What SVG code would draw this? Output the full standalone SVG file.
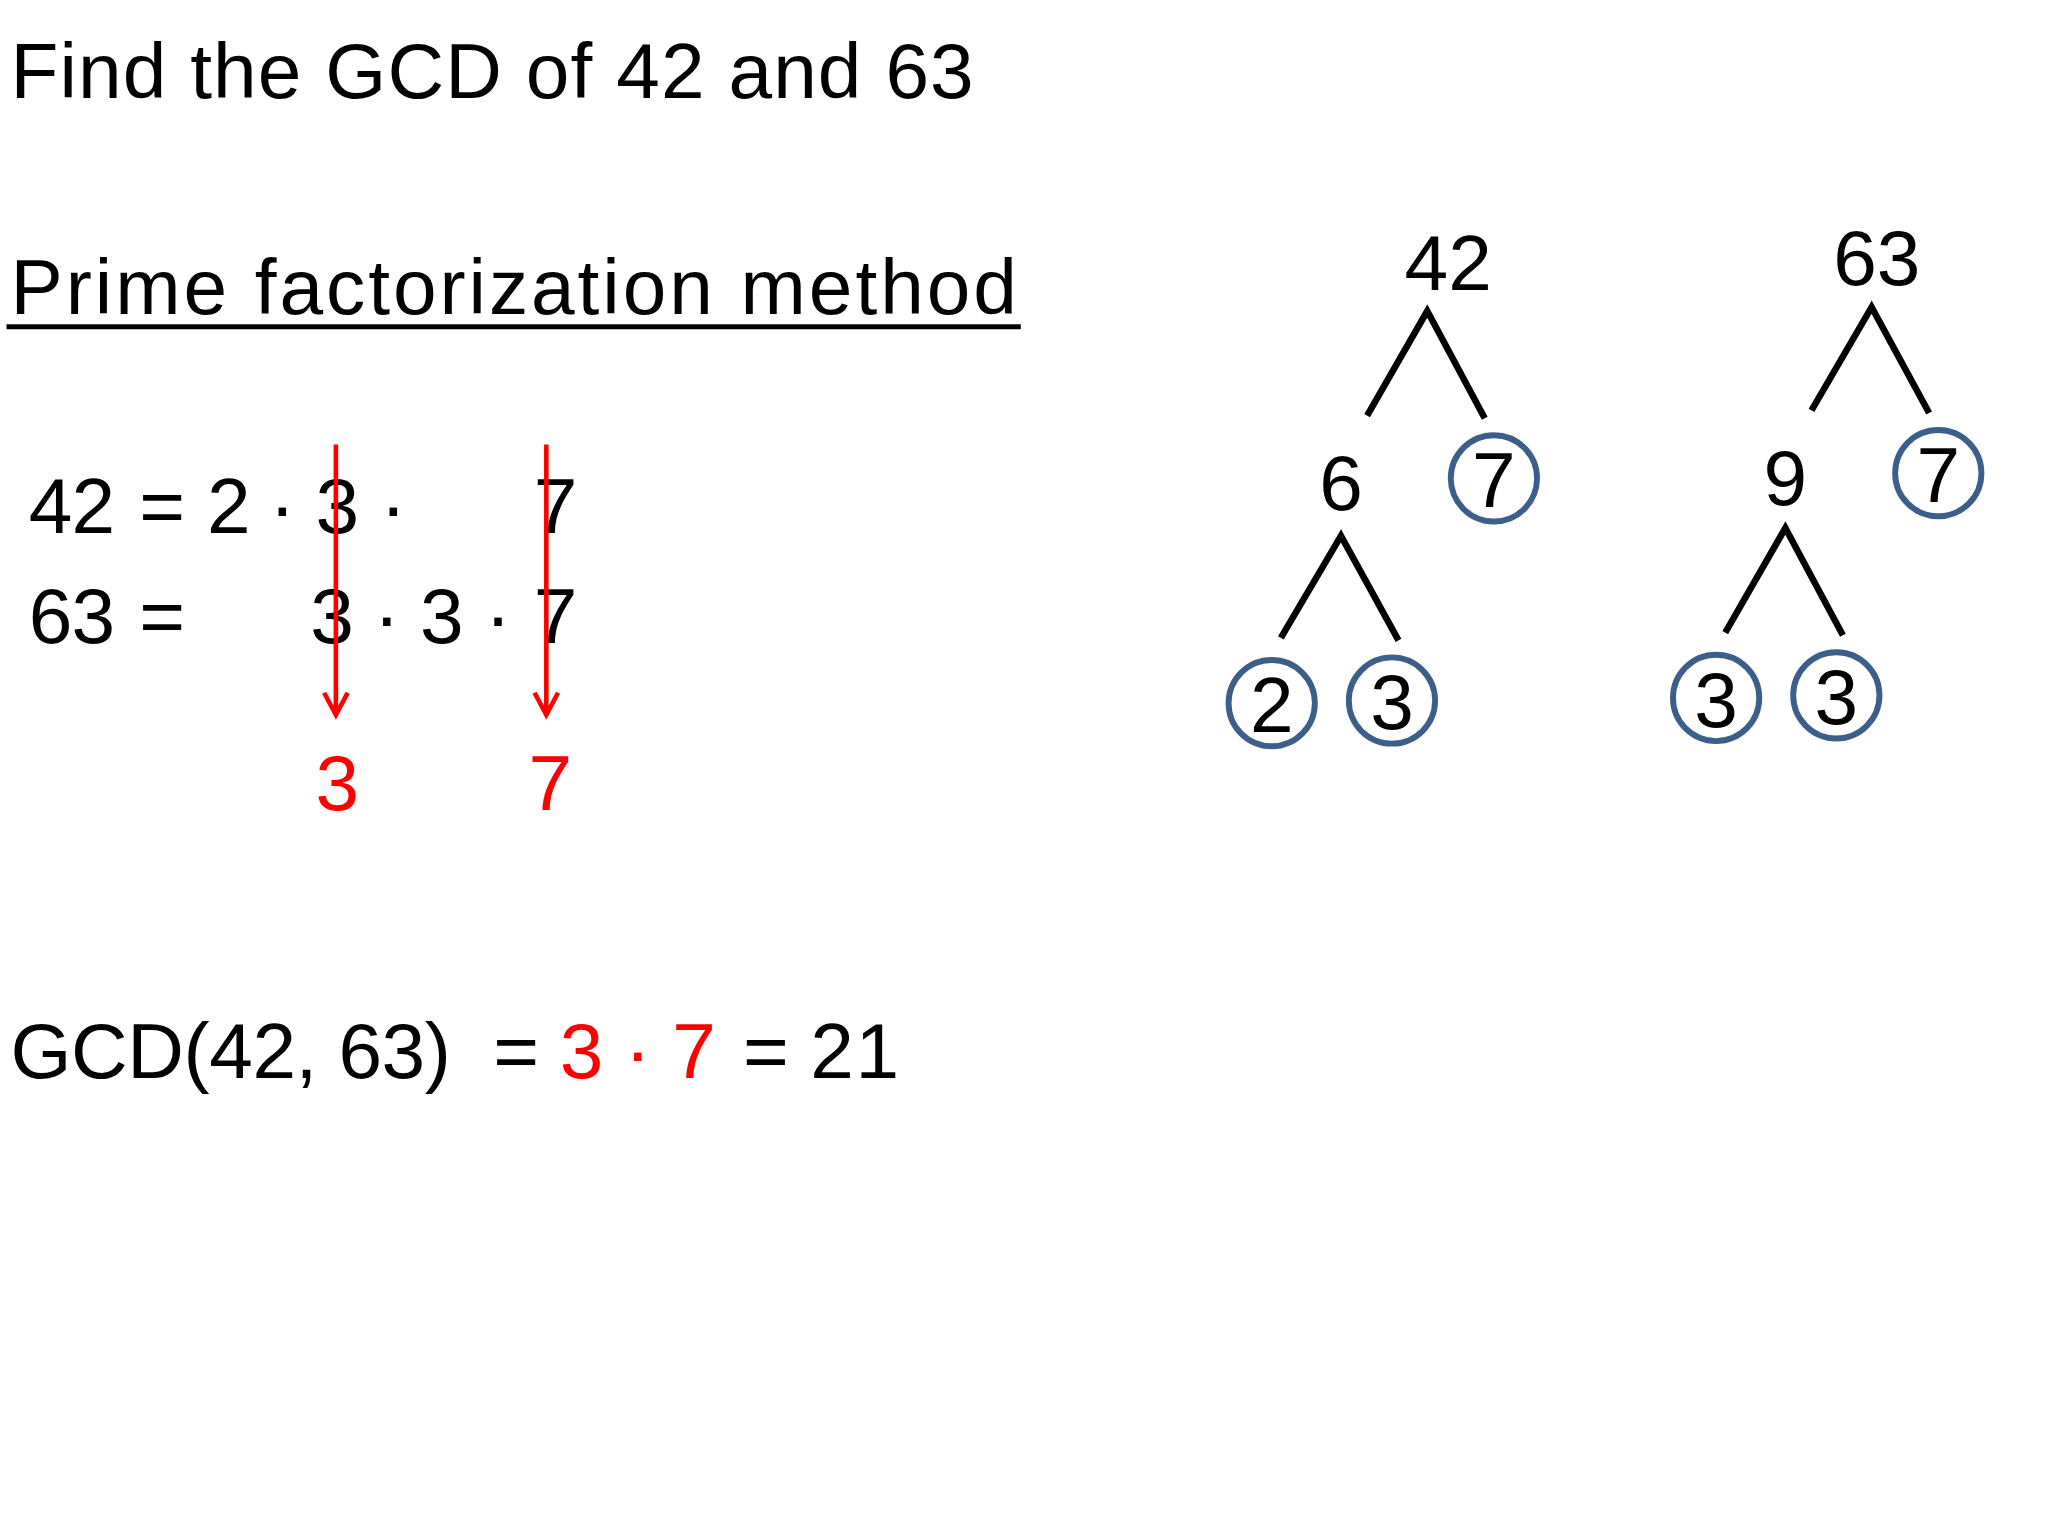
<svg xmlns="http://www.w3.org/2000/svg" width="2048" height="1536" viewBox="0 0 2048 1536">
<style>
text{font-family:"Liberation Sans","DejaVu Sans",sans-serif;font-size:60px;fill:#000}
.c{text-anchor:middle}
.r{fill:#ff0000}
.ln{stroke:#000;stroke-width:5;fill:none}
.ring{stroke:#3c5f8a;stroke-width:4.5;fill:none}
.ar{stroke:#ff0000;stroke-width:3.5;fill:none}
</style>
<rect width="2048" height="1536" fill="#fff"/>
<g transform="scale(1.307)">
<g id="title"><text x="8" y="75" font-size="64" textLength="737">Find the GCD of 42 and 63</text></g>
<g id="heading"><text x="8" y="240" font-size="64" textLength="770">Prime factorization method</text>
<line x1="5" y1="250" x2="781" y2="250" stroke="#000" stroke-width="4"/></g>
<g id="row1">
<text x="22" y="408" textLength="66">42</text><text class="c" x="124" y="408">=</text><text class="c" x="175" y="408">2</text><text class="c" x="216" y="408">·</text><text class="c" x="258" y="408">3</text><text class="c" x="301" y="408">·</text><text class="c" x="425" y="408">7</text></g>
<g id="row2">
<text x="22" y="492" textLength="66">63</text><text class="c" x="124" y="492">=</text><text class="c" x="254" y="492">3</text><text class="c" x="296" y="492">·</text><text class="c" x="338" y="492">3</text><text class="c" x="381" y="492">·</text><text class="c" x="425" y="492">7</text></g>
<g id="connectors">
<path class="ar" d="M257 340V546M248 530L257 547L266 530"/>
<path class="ar" d="M418 340V546M409 530L418 547L427 530"/>
<path class="ln" d="M1046 318L1092 238L1136 320M980 488L1026 410L1070 490"/>
<path class="ln" d="M1386 314L1432 235L1476 316M1320 484L1366 404L1410 486"/>
</g>
<g id="result3"><text class="c r" x="258" y="620">3</text></g>
<g id="result7"><text class="c r" x="421" y="620">7</text></g>
<g id="gcd"><text x="8" y="825" textLength="337">GCD(42, 63)</text><text class="c" x="395" y="825">=</text><text class="c r" x="445" y="825">3</text><text class="c r" x="488" y="825">·</text><text class="c r" x="531" y="825">7</text><text class="c" x="586" y="825">=</text><text x="620" y="825" textLength="68">21</text></g>
<g id="n42"><text class="c" x="1108" y="222">42</text></g>
<g id="n6"><text class="c" x="1026" y="390">6</text></g>
<g id="n7a"><circle class="ring" cx="1143" cy="366" r="33"/><text class="c" x="1143" y="388">7</text></g>
<g id="n2"><circle class="ring" cx="973" cy="538" r="33"/><text class="c" x="973" y="560">2</text></g>
<g id="n3a"><circle class="ring" cx="1065" cy="536" r="33"/><text class="c" x="1065" y="558">3</text></g>
<g id="n63"><text class="c" x="1436" y="218">63</text></g>
<g id="n9"><text class="c" x="1366" y="386">9</text></g>
<g id="n7b"><circle class="ring" cx="1483" cy="362" r="33"/><text class="c" x="1483" y="384">7</text></g>
<g id="n3b"><circle class="ring" cx="1313" cy="534" r="33"/><text class="c" x="1313" y="556">3</text></g>
<g id="n3c"><circle class="ring" cx="1405" cy="532" r="33"/><text class="c" x="1405" y="554">3</text></g>
</g>
</svg>
